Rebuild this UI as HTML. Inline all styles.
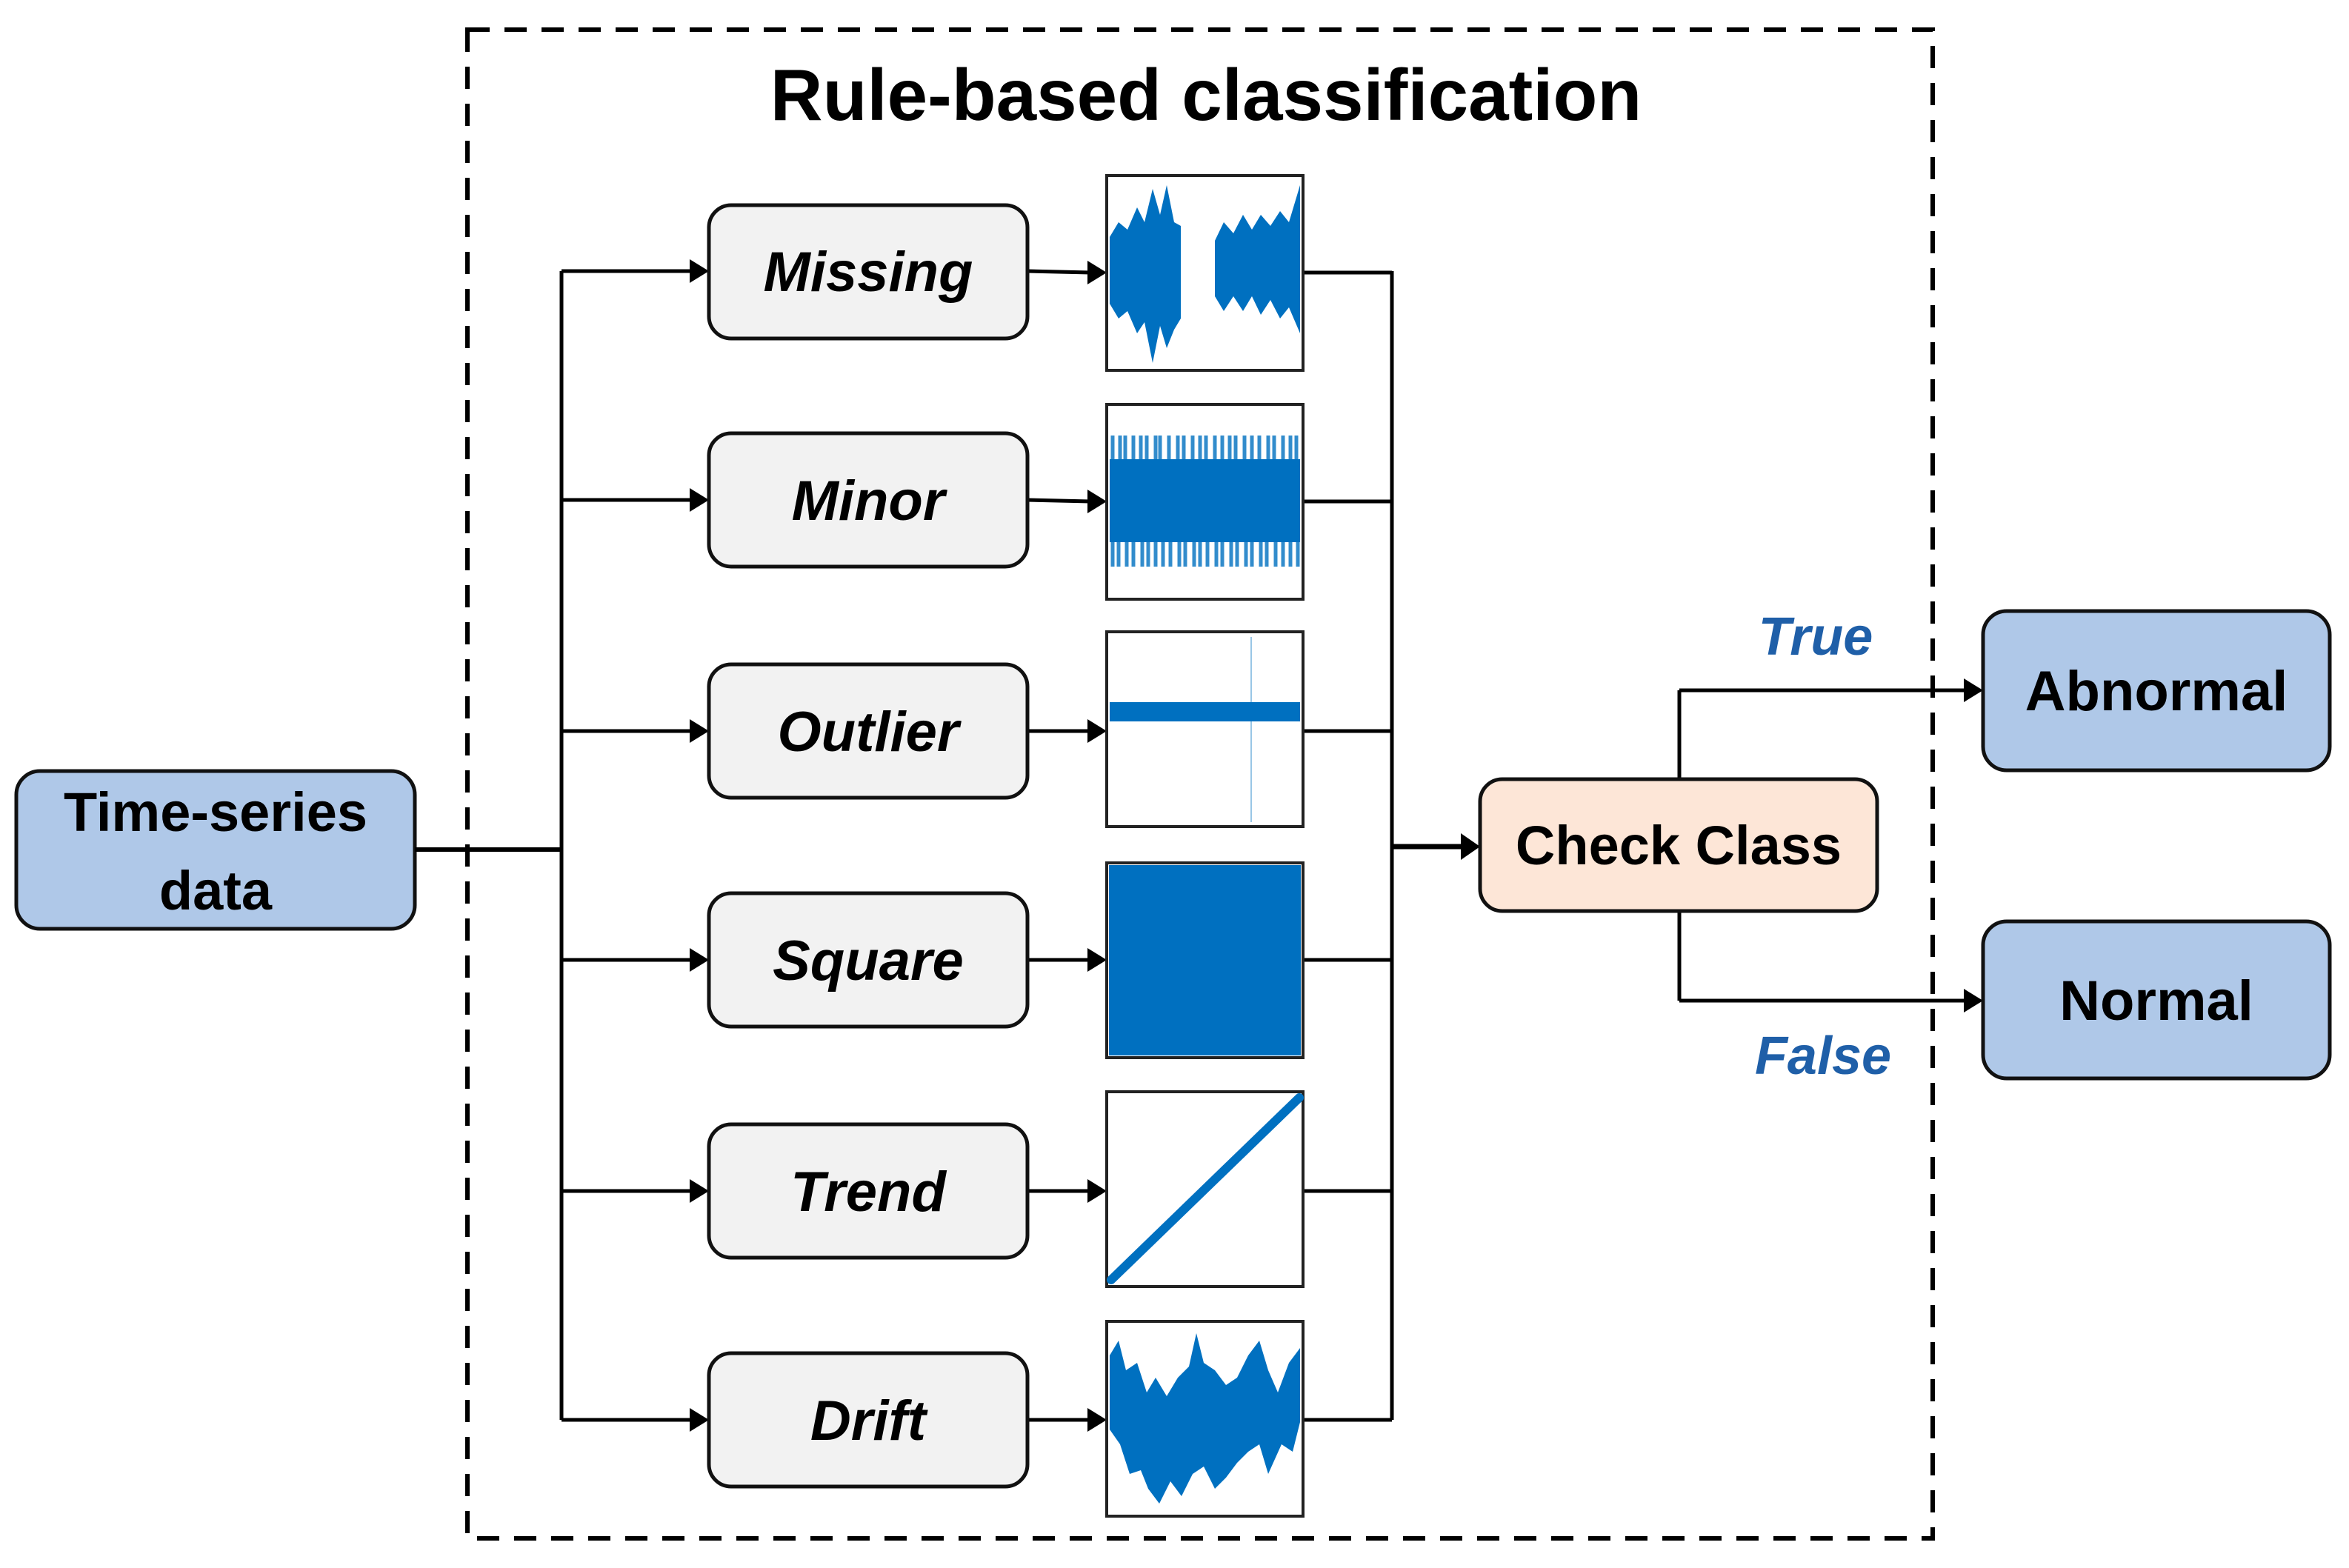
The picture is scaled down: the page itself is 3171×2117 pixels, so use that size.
<!DOCTYPE html>
<html><head><meta charset="utf-8"><style>
html,body{margin:0;padding:0;background:#fff;}
svg{display:block;}
text{font-family:"Liberation Sans",sans-serif;font-weight:bold;}
</style></head><body>
<svg width="3171" height="2117" viewBox="0 0 3171 2117" xmlns="http://www.w3.org/2000/svg">
<rect x="631" y="40" width="1978" height="2037" fill="none" stroke="#000" stroke-width="6" stroke-dasharray="30,20"/>
<text x="1628" y="162" font-size="98" text-anchor="middle">Rule-based classification</text>

<rect x="22" y="1041" width="538" height="213" rx="32" fill="#AFC8E8" stroke="#111" stroke-width="5"/>
<text x="291" y="1122" font-size="74" text-anchor="middle">Time-series</text>
<text x="291" y="1228" font-size="74" text-anchor="middle">data</text>

<line x1="560" y1="1147" x2="758" y2="1147" stroke="#000" stroke-width="6"/>
<line x1="758" y1="366" x2="758" y2="1917" stroke="#000" stroke-width="5"/>
<line x1="1879" y1="366" x2="1879" y2="1917" stroke="#000" stroke-width="5"/>

<g stroke="#000" stroke-width="5">
<line x1="758" y1="366" x2="935" y2="366"/>
<line x1="758" y1="675" x2="935" y2="675"/>
<line x1="758" y1="987" x2="935" y2="987"/>
<line x1="758" y1="1296" x2="935" y2="1296"/>
<line x1="758" y1="1608" x2="935" y2="1608"/>
<line x1="758" y1="1917" x2="935" y2="1917"/>
<line x1="1387" y1="366" x2="1472" y2="368"/>
<line x1="1387" y1="675" x2="1472" y2="677"/>
<line x1="1387" y1="987" x2="1472" y2="987"/>
<line x1="1387" y1="1296" x2="1472" y2="1296"/>
<line x1="1387" y1="1608" x2="1472" y2="1608"/>
<line x1="1387" y1="1917" x2="1472" y2="1917"/>
<line x1="1759" y1="368" x2="1879" y2="368"/>
<line x1="1759" y1="677" x2="1879" y2="677"/>
<line x1="1759" y1="987" x2="1879" y2="987"/>
<line x1="1759" y1="1296" x2="1879" y2="1296"/>
<line x1="1759" y1="1608" x2="1879" y2="1608"/>
<line x1="1759" y1="1917" x2="1879" y2="1917"/>
<line x1="1879" y1="1143" x2="1975" y2="1143" stroke-width="7"/>
</g>
<g fill="#000">
<polygon points="931,350 957,366 931,382"/>
<polygon points="931,659 957,675 931,691"/>
<polygon points="931,971 957,987 931,1003"/>
<polygon points="931,1280 957,1296 931,1312"/>
<polygon points="931,1592 957,1608 931,1624"/>
<polygon points="931,1901 957,1917 931,1933"/>
<polygon points="1468,352 1494,368 1468,384"/>
<polygon points="1468,661 1494,677 1468,693"/>
<polygon points="1468,971 1494,987 1468,1003"/>
<polygon points="1468,1280 1494,1296 1468,1312"/>
<polygon points="1468,1592 1494,1608 1468,1624"/>
<polygon points="1468,1901 1494,1917 1468,1933"/>
<polygon points="1972,1125 1998,1143 1972,1161"/>
<polygon points="2651,916 2677,932 2651,948"/>
<polygon points="2651,1335 2677,1351 2651,1367"/>
</g>

<g fill="#F2F2F2" stroke="#111" stroke-width="5">
<rect x="957" y="277" width="430" height="180" rx="30"/>
<rect x="957" y="585" width="430" height="180" rx="30"/>
<rect x="957" y="897" width="430" height="180" rx="30"/>
<rect x="957" y="1206" width="430" height="180" rx="30"/>
<rect x="957" y="1518" width="430" height="180" rx="30"/>
<rect x="957" y="1827" width="430" height="180" rx="30"/>
</g>
<g font-size="76" font-style="italic" text-anchor="middle">
<text x="1172" y="393">Missing</text>
<text x="1172" y="702">Minor</text>
<text x="1172" y="1014">Outlier</text>
<text x="1172" y="1323">Square</text>
<text x="1172" y="1635">Trend</text>
<text x="1172" y="1944">Drift</text>
</g>

<g fill="#fff" stroke="#222" stroke-width="4">
<rect x="1494" y="237" width="265" height="263"/>
<rect x="1494" y="546" width="265" height="263"/>
<rect x="1494" y="853" width="265" height="263"/>
<rect x="1494" y="1165" width="265" height="263"/>
<rect x="1494" y="1474" width="265" height="263"/>
<rect x="1494" y="1784" width="265" height="263"/>
</g>
<g fill="#0070C0">
<polygon points="1498,320 1510,300 1522,310 1535,280 1545,300 1556,255 1566,290 1575,250 1585,300 1594,305 1594,430 1585,445 1575,470 1566,440 1556,490 1545,435 1535,450 1522,420 1510,430 1498,410"/>
<polygon points="1640,325 1652,300 1665,315 1678,290 1690,310 1702,290 1715,305 1728,285 1740,300 1755,250 1755,450 1740,415 1728,430 1715,405 1702,425 1690,400 1678,420 1665,400 1652,420 1640,400"/>
<rect x="1498" y="620" width="257" height="112"/>
</g>
<g stroke="#0070C0" stroke-width="5" opacity="0.8">
<path d="M1502 588V620M1512 588V620M1519 588V620M1530 588V620M1540 588V620M1548 588V620M1560 588V620M1566 588V620M1578 588V620M1590 588V620M1598 588V620M1610 588V620M1620 588V620M1628 588V620M1640 588V620M1650 588V620M1660 588V620M1668 588V620M1680 588V620M1690 588V620M1700 588V620M1712 588V620M1720 588V620M1732 588V620M1742 588V620M1750 588V620"/>
<path d="M1502 732V765M1510 732V765M1521 732V765M1530 732V765M1542 732V765M1550 732V765M1560 732V765M1570 732V765M1580 732V765M1592 732V765M1600 732V765M1612 732V765M1620 732V765M1630 732V765M1642 732V765M1650 732V765M1662 732V765M1670 732V765M1682 732V765M1690 732V765M1702 732V765M1710 732V765M1722 732V765M1732 732V765M1742 732V765M1752 732V765"/>
</g>
<g fill="#0070C0">
<rect x="1498" y="948" width="257" height="26"/>
<rect x="1688" y="860" width="2" height="250" opacity="0.4"/>
<rect x="1497" y="1168" width="259" height="257"/>
<polygon points="1498,1830 1510,1810 1520,1850 1535,1840 1548,1880 1560,1860 1575,1885 1590,1860 1605,1845 1615,1800 1625,1840 1640,1850 1655,1870 1670,1860 1685,1830 1700,1810 1712,1850 1725,1880 1740,1840 1755,1820 1755,1920 1745,1960 1730,1950 1712,1990 1700,1950 1685,1960 1670,1975 1655,1995 1640,2010 1625,1980 1610,1990 1595,2020 1580,2000 1565,2030 1550,2010 1540,1985 1525,1990 1512,1950 1498,1930"/>
</g>
<line x1="1500" y1="1728" x2="1754" y2="1482" stroke="#0070C0" stroke-width="12" stroke-linecap="round"/>

<line x1="2267" y1="1052" x2="2267" y2="932" stroke="#000" stroke-width="5"/>
<line x1="2267" y1="932" x2="2655" y2="932" stroke="#000" stroke-width="5"/>
<line x1="2267" y1="1230" x2="2267" y2="1351" stroke="#000" stroke-width="5"/>
<line x1="2267" y1="1351" x2="2655" y2="1351" stroke="#000" stroke-width="5"/>
<rect x="1998" y="1052" width="536" height="178" rx="30" fill="#FDE6D7" stroke="#111" stroke-width="5"/>
<text x="2266" y="1167" font-size="74" text-anchor="middle">Check Class</text>

<text x="2451" y="884" font-size="72" font-style="italic" text-anchor="middle" fill="#1F5FA8">True</text>
<text x="2461" y="1450" font-size="72" font-style="italic" text-anchor="middle" fill="#1F5FA8">False</text>

<rect x="2677" y="825" width="468" height="215" rx="32" fill="#AFC8E8" stroke="#111" stroke-width="5"/>
<text x="2911" y="959" font-size="76" text-anchor="middle">Abnormal</text>
<rect x="2677" y="1244" width="468" height="212" rx="32" fill="#AFC8E8" stroke="#111" stroke-width="5"/>
<text x="2911" y="1377" font-size="76" text-anchor="middle">Normal</text>
</svg>
</body></html>
